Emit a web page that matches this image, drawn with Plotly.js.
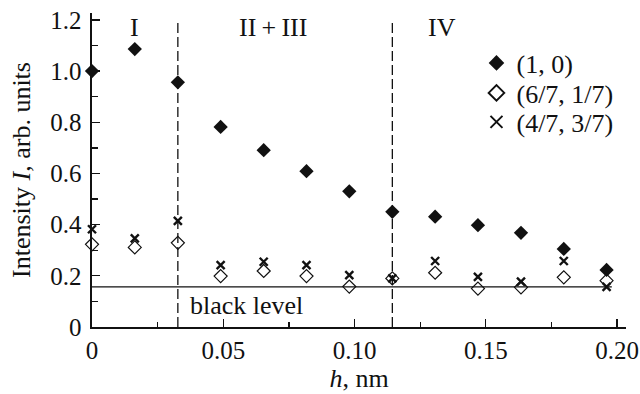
<!DOCTYPE html>
<html>
<head>
<meta charset="utf-8">
<script src="https://cdn.plot.ly/plotly-3.0.1.min.js"></script>
<style>html,body{margin:0;padding:0;background:#fff;}#plot{width:640px;height:394px;}</style>
</head>
<body>
<div id="plot"></div>
<script>
var h = [0, 0.0163, 0.0327, 0.049, 0.0654, 0.0817, 0.098, 0.1144, 0.1307, 0.147, 0.1634, 0.1797, 0.196];
var s10 = [1.00, 1.086, 0.956, 0.782, 0.691, 0.609, 0.53, 0.450, 0.431, 0.398, 0.368, 0.305, 0.223];
var s6717 = [0.323, 0.311, 0.329, 0.199, 0.219, 0.199, 0.158, 0.19, 0.212, 0.150, 0.155, 0.194, 0.181];
var s4737 = [0.382, 0.346, 0.415, 0.242, 0.255, 0.242, 0.203, 0.19, 0.258, 0.196, 0.177, 0.258, 0.157];
var seriesNames = ["(1, 0)", "(6/7, 1/7)", "(4/7, 3/7)"];
var blackLevel = 0.157;
var blackLevelEnd = 0.198;
var boundaries = [0.0327, 0.1144];
var regionLabels = ["I", "II\u2009+\u2009III", "IV"];
var regionLabelX = [0.016, 0.069, 0.1335];
var regionLabelY = 1.17;
var xTickVals = [0, 0.05, 0.10, 0.15, 0.20];
var xTickText = ["0", "0.05", "0.10", "0.15", "0.20"];
var yTickVals = [0, 0.2, 0.4, 0.6, 0.8, 1.0, 1.2];
var yTickText = ["0", "0.2", "0.4", "0.6", "0.8", "1.0", "1.2"];

var F = "Liberation Serif";
var traces = [
  {x: h, y: s10, name: seriesNames[0], mode: "markers", type: "scatter", legend: "legend", cliponaxis: false,
   marker: {symbol: "diamond", size: 11, color: "#111"}},
  {x: h, y: s6717, name: seriesNames[1], mode: "markers", type: "scatter", legend: "legend2", cliponaxis: false,
   marker: {symbol: "diamond-open", size: 10, color: "#111", line: {width: 1.2, color: "#111"}}},
  {x: h, y: s4737, name: seriesNames[2], mode: "markers", type: "scatter", legend: "legend3", cliponaxis: false,
   marker: {symbol: "x-thin", size: 8, color: "#111", line: {width: 2.4, color: "#111"}}}
];
var shapes = [
  {type: "line", xref: "x", yref: "y", x0: 0, x1: blackLevelEnd, y0: blackLevel, y1: blackLevel,
   line: {color: "#111", width: 1.3}}
];
boundaries.forEach(function (b) {
  shapes.push({type: "line", xref: "x", yref: "y", x0: b, x1: b, y0: 0, y1: 1.2,
    line: {color: "#111", width: 1.3, dash: "10px,4px"}});
});
var annotations = regionLabels.map(function (t, i) {
  return {x: regionLabelX[i], y: regionLabelY, xref: "x", yref: "y", text: t, showarrow: false,
    font: {family: F, size: 26, color: "#111"}};
});
annotations.push({x: 0.059, y: 0.085, xref: "x", yref: "y", text: "black level", showarrow: false,
  font: {family: F, size: 26, color: "#111"}});

function leg(ypx) {
  return {x: 0.72, y: (327 - ypx) / 314, xanchor: "left", yanchor: "middle", bgcolor: "rgba(0,0,0,0)",
    font: {family: F, size: 26, color: "#111"}, itemsizing: "constant"};
}

var layout = {
  width: 640, height: 394,
  margin: {l: 92, r: 14, t: 13, b: 67},
  paper_bgcolor: "#fff", plot_bgcolor: "#fff",
  font: {family: F, size: 25, color: "#111"},
  showlegend: true,
  legend: leg(63), legend2: leg(93), legend3: leg(122),
  xaxis: {range: [0, 0.2034], showgrid: false, zeroline: false, showline: true,
    linecolor: "#111", linewidth: 1.6, ticks: "inside", ticklen: 8, tickwidth: 1.3, tickcolor: "#111",
    tickvals: xTickVals, ticktext: xTickText, tickfont: {family: F, size: 25},
    minor: {dtick: 0.025, tick0: 0, ticks: "inside", ticklen: 5, tickwidth: 1.3, tickcolor: "#111"},
    title: {text: "<i>h</i>, nm", font: {family: F, size: 26}, standoff: 4}},
  yaxis: {range: [0, 1.227], showgrid: false, zeroline: false, showline: true,
    linecolor: "#111", linewidth: 1.6, ticks: "inside", ticklen: 8, tickwidth: 1.3, tickcolor: "#111",
    tickvals: yTickVals, ticktext: yTickText, tickfont: {family: F, size: 25}, ticklabelstandoff: 4,
    minor: {dtick: 0.1, tick0: 0, ticks: "inside", ticklen: 6, tickwidth: 1.3, tickcolor: "#111"},
    title: {text: "Intensity <i>I</i>, arb. units", font: {family: F, size: 26}, standoff: 12}},
  shapes: shapes,
  annotations: annotations
};
Plotly.newPlot("plot", traces, layout, {displayModeBar: false, staticPlot: true});
</script>
</body>
</html>
